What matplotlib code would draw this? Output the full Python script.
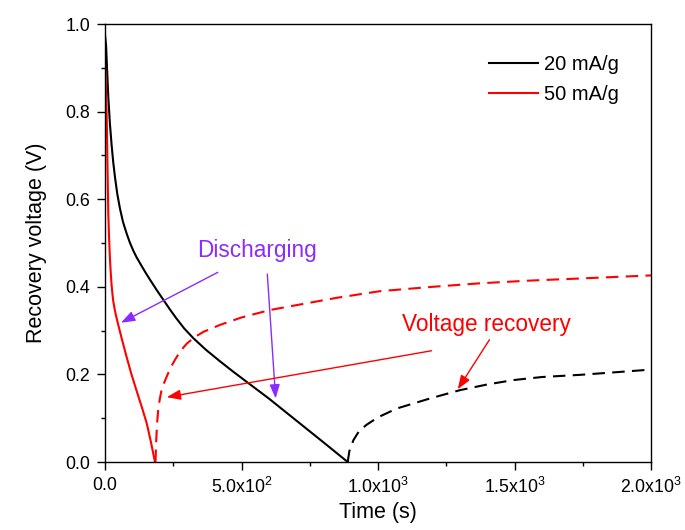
import matplotlib
matplotlib.use("Agg")
import matplotlib.pyplot as plt

plt.rcParams['font.family'] = ['Liberation Sans', 'DejaVu Sans']
plt.rcParams['mathtext.fontset'] = 'custom'
plt.rcParams['mathtext.rm'] = 'Liberation Sans'
plt.rcParams['mathtext.it'] = 'Liberation Sans:italic'

# ---- data ----
t_20_dis = [0, 4, 8, 12, 18, 24, 30, 37, 45, 55, 66, 79, 91, 104, 116, 130, 147, 165, 190,
            214, 237, 260, 290, 323, 370, 421, 470, 519, 600, 678, 800, 889]
v_20_dis = [0.975, 0.95, 0.89, 0.834, 0.772, 0.725, 0.685, 0.648, 0.612, 0.578, 0.548, 0.522,
            0.501, 0.482, 0.467, 0.452, 0.434, 0.416, 0.392, 0.37, 0.349, 0.329, 0.305,
            0.283, 0.256, 0.23, 0.206, 0.183, 0.145, 0.106, 0.045, 0.0]

t_20_rec = [889, 895, 910, 930, 958, 1000, 1068, 1190, 1300, 1400, 1495, 1600, 1740, 1850, 2000]
v_20_rec = [0.0, 0.025, 0.05, 0.07, 0.085, 0.102, 0.122, 0.145, 0.164, 0.177, 0.187,
            0.194, 0.199, 0.204, 0.211]

t_50_dis = [0, 3, 6, 9, 12, 15, 18, 21, 24, 27, 30, 35, 40, 49, 62, 79, 97, 116, 135, 153,
            168, 183]
v_50_dis = [0.91, 0.86, 0.797, 0.68, 0.568, 0.51, 0.465, 0.432, 0.405, 0.385, 0.368, 0.35,
            0.335, 0.312, 0.28, 0.24, 0.20, 0.162, 0.125, 0.088, 0.046, 0.0]

t_50_rec = [185, 187, 191, 195, 201, 207, 216, 226, 240, 256, 276, 299, 328, 360, 421, 500,
            604, 700, 850, 1007, 1200, 1374, 1550, 1740, 1850, 2000]
v_50_rec = [0.0, 0.043, 0.09, 0.12, 0.145, 0.164, 0.18, 0.195, 0.215, 0.233, 0.253, 0.27,
            0.285, 0.297, 0.313, 0.33, 0.347, 0.358, 0.375, 0.39, 0.40, 0.408, 0.414,
            0.419, 0.422, 0.426]

series_labels = ['20 mA/g', '50 mA/g']
x_ticks = [0, 500, 1000, 1500, 2000]
x_tick_labels = ['0.0', r'5.0x10$^{2}$', r'1.0x10$^{3}$', r'1.5x10$^{3}$', r'2.0x10$^{3}$']
y_ticks = [0.0, 0.2, 0.4, 0.6, 0.8, 1.0]
y_tick_labels = ['0.0', '0.2', '0.4', '0.6', '0.8', '1.0']

# ---- figure ----
fig = plt.figure(figsize=(6.85, 5.3), dpi=100)
ax = fig.add_axes([0.1533, 0.1283, 0.7971, 0.8264])

lw = 1.5
ax.plot(t_20_dis, v_20_dis, color='black', lw=lw, label=series_labels[0])
ax.plot(t_50_dis, v_50_dis, color='#FF0000', lw=lw, label=series_labels[1])
ax.plot(t_20_rec, v_20_rec, color='black', lw=lw, dashes=(6, 3.5))
ax.plot(t_50_rec, v_50_rec, color='#FF0000', lw=lw, dashes=(6, 3.5))

ax.set_xlim(0, 2000)
ax.set_ylim(0, 1.0)
ax.set_xticks(x_ticks)
ax.set_xticklabels(x_tick_labels)
ax.set_yticks(y_ticks)
ax.set_yticklabels(y_tick_labels)
ax.set_xticks([250, 750, 1250, 1750], minor=True)
ax.set_yticks([0.1, 0.3, 0.5, 0.7, 0.9], minor=True)
ax.tick_params(which='major', direction='out', length=5.5, width=1.0, labelsize=12.8, pad=5)
ax.tick_params(which='minor', direction='out', length=3, width=1.0)
ax.tick_params(top=False, right=False)
for s in ax.spines.values():
    s.set_linewidth(1.0)

ax.set_xlabel('Time (s)', fontsize=15.5, labelpad=4)
ax.set_ylabel('Recovery voltage (V)', fontsize=15.5, labelpad=13)

leg = ax.legend(loc='upper right', frameon=False, fontsize=14.5, handlelength=2.4,
                handletextpad=0.3, labelspacing=0.55, borderaxespad=0.8,
                bbox_to_anchor=(0.985, 0.985))

purple = '#8B2BFF'
red = '#FF0000'
arrow_kw = dict(arrowstyle='-|>,head_length=0.6,head_width=0.22', lw=1.0,
                mutation_scale=14, shrinkA=0, shrinkB=0)

ax.text(556, 0.484, 'Discharging', color=purple, fontsize=16.3, ha='center', va='center')
ax.annotate('', xy=(58.6, 0.318), xytext=(413, 0.433),
            arrowprops=dict(color=purple, **arrow_kw))
ax.annotate('', xy=(625, 0.145), xytext=(594.5, 0.429),
            arrowprops=dict(color=purple, **arrow_kw))

ax.text(1398, 0.313, 'Voltage recovery', color=red, fontsize=16.3, ha='center', va='center')
ax.annotate('', xy=(226, 0.148), xytext=(1196, 0.254),
            arrowprops=dict(color=red, **arrow_kw))
ax.annotate('', xy=(1292, 0.166), xytext=(1408, 0.279),
            arrowprops=dict(color=red, **arrow_kw))

fig.savefig('out.png', dpi=100)
